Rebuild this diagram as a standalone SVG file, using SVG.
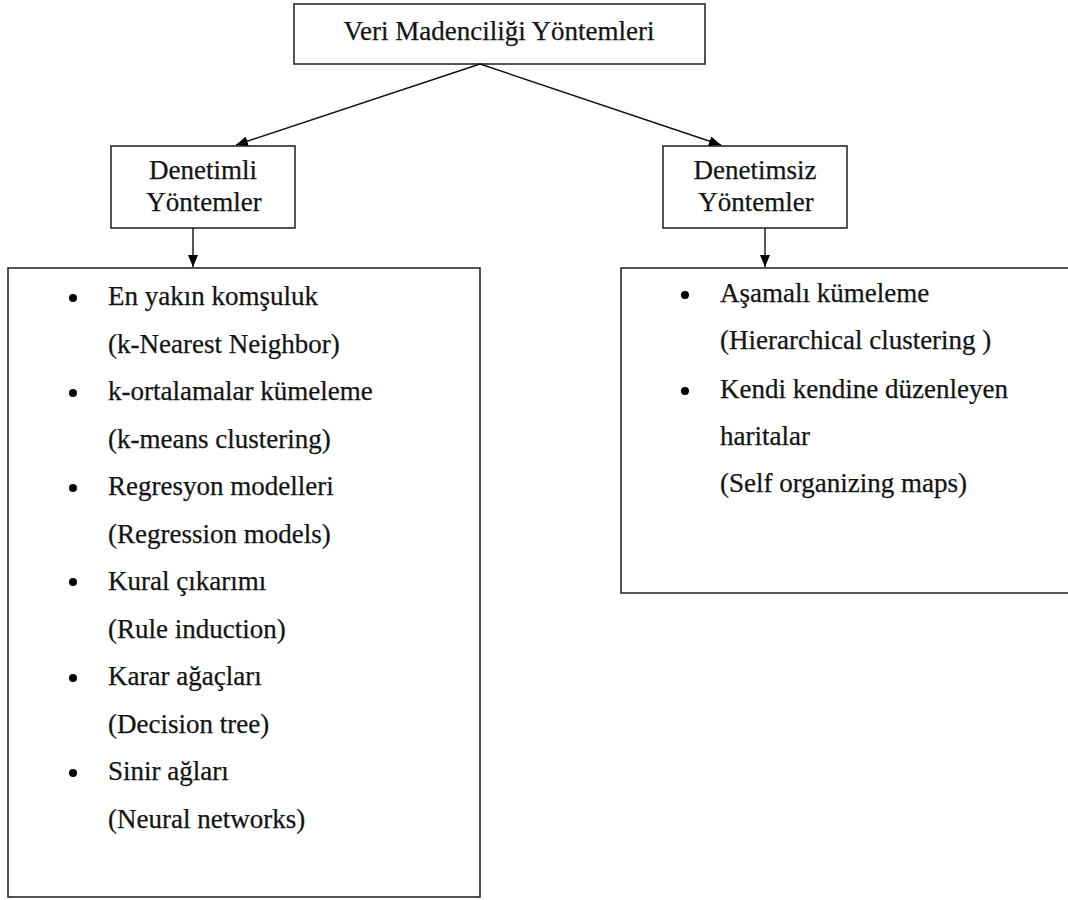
<svg xmlns="http://www.w3.org/2000/svg" width="1068" height="900" viewBox="0 0 1068 900">
  <style>
    .box { fill: #ffffff; stroke: #2a2a2a; stroke-width: 1.6; }
    .edge { fill: none; stroke: #111111; stroke-width: 1.4; }
    .t { font-family: "Liberation Serif", "Times New Roman", serif; font-size: 27px; fill: #141414; stroke: #141414; stroke-width: 0.25; }
    .c { text-anchor: middle; }
    .dot { fill: #000000; }
  </style>
  <defs>
    <marker id="arrow" viewBox="0 0 12 10" refX="12" refY="5" markerWidth="12" markerHeight="10" markerUnits="userSpaceOnUse" orient="auto">
      <path d="M0,0 L12,5 L0,10 Z" fill="#000000"/>
    </marker>
  </defs>

  <rect width="1068" height="900" fill="#ffffff"/>

  <g id="root">
    <rect class="box" x="294" y="4" width="411" height="60"/>
    <text class="t c" x="499" y="40">Veri Madenciliği Yöntemleri</text>
  </g>

  <g id="supervised">
    <rect class="box" x="111" y="146" width="184" height="82"/>
    <text class="t c" x="203" y="179">Denetimli</text>
    <text class="t c" x="204" y="211">Yöntemler</text>
  </g>

  <g id="unsupervised">
    <rect class="box" x="663" y="146" width="184" height="82"/>
    <text class="t c" x="755" y="179">Denetimsiz</text>
    <text class="t c" x="756" y="211">Yöntemler</text>
  </g>

  <g id="supervised-list">
    <rect class="box" x="8" y="268" width="472" height="629"/>
    <circle class="dot" cx="73" cy="298" r="4"/>
    <text class="t" x="108" y="305">En yakın komşuluk</text>
    <text class="t" x="108" y="352.5">(k-Nearest Neighbor)</text>
    <circle class="dot" cx="73" cy="393" r="4"/>
    <text class="t" x="108" y="400">k-ortalamalar kümeleme</text>
    <text class="t" x="108" y="447.5">(k-means clustering)</text>
    <circle class="dot" cx="73" cy="488" r="4"/>
    <text class="t" x="108" y="495">Regresyon modelleri</text>
    <text class="t" x="108" y="542.5">(Regression models)</text>
    <circle class="dot" cx="73" cy="582" r="4"/>
    <text class="t" x="108" y="590">Kural çıkarımı</text>
    <text class="t" x="108" y="637.5">(Rule induction)</text>
    <circle class="dot" cx="73" cy="678" r="4"/>
    <text class="t" x="108" y="685">Karar ağaçları</text>
    <text class="t" x="108" y="732.5">(Decision tree)</text>
    <circle class="dot" cx="73" cy="773" r="4"/>
    <text class="t" x="108" y="780">Sinir ağları</text>
    <text class="t" x="108" y="827.5">(Neural networks)</text>
  </g>

  <g id="unsupervised-list">
    <rect class="box" x="621" y="268" width="460" height="325"/>
    <circle class="dot" cx="685" cy="295" r="4"/>
    <text class="t" x="720" y="302">Aşamalı kümeleme</text>
    <text class="t" x="720" y="349">(Hierarchical clustering )</text>
    <circle class="dot" cx="685" cy="391" r="4"/>
    <text class="t" x="720" y="398">Kendi kendine düzenleyen</text>
    <text class="t" x="720" y="445">haritalar</text>
    <text class="t" x="720" y="492">(Self organizing maps)</text>
  </g>

  <g id="connectors">
    <line class="edge" x1="480" y1="64" x2="236" y2="145" marker-end="url(#arrow)"/>
    <line class="edge" x1="480" y1="64" x2="721" y2="145" marker-end="url(#arrow)"/>
    <line class="edge" x1="193" y1="228" x2="193" y2="267" marker-end="url(#arrow)"/>
    <line class="edge" x1="765" y1="228" x2="765" y2="267" marker-end="url(#arrow)"/>
  </g>
</svg>
